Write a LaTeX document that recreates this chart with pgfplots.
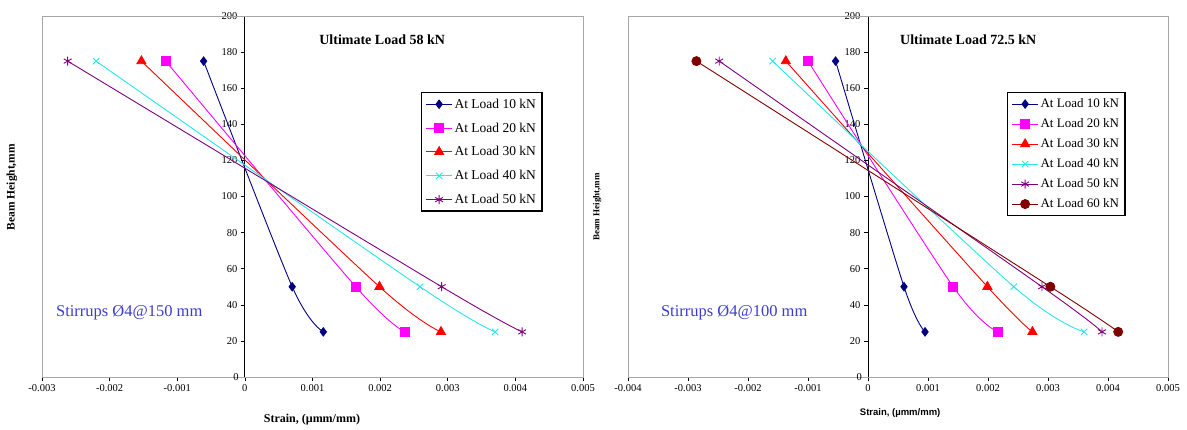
\documentclass[border=0pt]{standalone}
\usepackage{fontspec}
\setmainfont{Liberation Serif}
\newfontfamily\sansf{Liberation Sans}
\usepackage{pgfplots}
\pgfplotsset{compat=1.18}

\definecolor{c10}{RGB}{0,0,128}
\definecolor{c20}{RGB}{255,0,255}
\definecolor{c30}{RGB}{255,0,0}
\definecolor{c40}{RGB}{40,230,235}
\definecolor{c50}{RGB}{128,0,128}
\definecolor{c60}{RGB}{128,0,0}
\definecolor{stirblue}{RGB}{60,60,210}

\pgfplotsset{
  strainaxis/.style={
    scale only axis, width=541bp, height=361bp,
    ymin=0, ymax=200, ytick={0,20,...,200},
    axis x line=bottom, axis y line=center,
    axis line style={-, black, line width=0.8pt},
    tick align=outside, major tick length=4bp,
    tick style={black, line width=0.6pt},
    scaled x ticks=false,
    every tick label/.append style={font=\fontsize{10.5bp}{12bp}\selectfont},
    /pgf/number format/assume math mode=true,
    clip=false,
    legend cell align=left,
    legend image code/.code={\draw[mark repeat=2,mark phase=2,##1] plot coordinates {(0bp,0bp) (13bp,0bp) (26bp,0bp)};},
    before end axis/.code={\draw[gray!70, line width=0.8pt] (rel axis cs:0,0) rectangle (rel axis cs:1,1);
      \node[anchor=east, font=\fontsize{10.5bp}{12bp}\selectfont, inner sep=2bp] at ([xshift=-4bp]axis cs:0,0) {0};},
  },
  s10/.style={c10, line width=0.9pt, smooth, mark=diamond*, mark size=4.2bp, mark options={solid}},
  s20/.style={c20, line width=0.9pt, smooth, mark=square*, mark size=4.5bp, mark options={solid}},
  s30/.style={c30, line width=0.9pt, smooth, mark=triangle*, mark size=5.2bp, mark options={solid}},
  s40/.style={c40, line width=0.9pt, smooth, mark=x, mark size=4.5bp, mark options={solid}},
  s50/.style={c50, line width=0.9pt, smooth, mark=asterisk, mark size=4.5bp, mark options={solid}},
  s60/.style={c60, line width=0.9pt, smooth, mark=*, mark size=4.5bp, mark options={solid}},
}

\begin{document}
\begin{tikzpicture}
\useasboundingbox (0,0) rectangle (1187bp,430bp);

% left: stirrups 150 mm
\begin{axis}[strainaxis,
  at={(42bp,53bp)}, anchor=south west,
  xmin=-0.003, xmax=0.005,
  xtick={-0.003,-0.002,-0.001,0,0.001,0.002,0.003,0.004,0.005},
  xticklabels={-0.003,-0.002,-0.001,0,0.001,0.002,0.003,0.004,0.005},
  legend style={at={(rel axis cs:0.7006,0.789)}, anchor=north west, draw=black, line width=1.3pt,
    inner xsep=4bp, inner ysep=4bp, row sep=9bp,
    font=\fontsize{13.5bp}{14bp}\selectfont},
]
\addplot[s10] coordinates {(-0.00061,175) (0.0007,50) (0.00116,25)};
\addplot[s20] coordinates {(-0.00117,175) (0.00164,50) (0.00236,25)};
\addplot[s30] coordinates {(-0.00153,175) (0.00199,50) (0.0029,25)};
\addplot[s40] coordinates {(-0.0022,175) (0.00259,50) (0.0037,25)};
\addplot[s50] coordinates {(-0.00262,175) (0.00291,50) (0.0041,25)};
\legend{At Load 10 kN, At Load 20 kN, At Load 30 kN, At Load 40 kN, At Load 50 kN}
\node[font=\fontsize{14bp}{16bp}\selectfont\bfseries] at (axis cs:0.00203,186.7) {Ultimate Load 58 kN};
\node[font=\fontsize{16.5bp}{18bp}\selectfont, text=stirblue] at (axis cs:-0.00171,35.5) {Stirrups Ø4@150 mm};
\node[font=\fontsize{12bp}{14bp}\selectfont\bfseries] at (rel axis cs:0.499,-0.119) {Strain, (µmm/mm)};
\node[font=\fontsize{11.5bp}{13bp}\selectfont\bfseries, rotate=90] at (rel axis cs:-0.0555,0.526) {Beam Height,mm};
\end{axis}

% right: stirrups 100 mm
\begin{axis}[strainaxis,
  at={(628bp,53bp)}, anchor=south west, width=540bp,
  xmin=-0.004, xmax=0.005,
  xtick={-0.004,-0.003,-0.002,-0.001,0,0.001,0.002,0.003,0.004,0.005},
  xticklabels={-0.004,-0.003,-0.002,-0.001,0,0.001,0.002,0.003,0.004,0.005},
  legend style={at={(rel axis cs:0.7019,0.789)}, anchor=north west, draw=black, line width=1.3pt,
    inner xsep=4bp, inner ysep=4bp, row sep=5.5bp,
    font=\fontsize{13bp}{13bp}\selectfont},
]
\addplot[s10] coordinates {(-0.00054,175) (0.0006,50) (0.00095,25)};
\addplot[s20] coordinates {(-0.001,175) (0.00142,50) (0.00216,25)};
\addplot[s30] coordinates {(-0.00137,175) (0.00199,50) (0.00274,25)};
\addplot[s40] coordinates {(-0.00159,175) (0.00243,50) (0.0036,25)};
\addplot[s50] coordinates {(-0.00248,175) (0.0029,50) (0.0039,25)};
\addplot[s60] coordinates {(-0.00286,175) (0.00304,50) (0.00417,25)};
\legend{At Load 10 kN, At Load 20 kN, At Load 30 kN, At Load 40 kN, At Load 50 kN, At Load 60 kN}
\node[font=\fontsize{14bp}{16bp}\selectfont\bfseries] at (axis cs:0.00167,186.7) {Ultimate Load 72.5 kN};
\node[font=\fontsize{16.5bp}{18bp}\selectfont, text=stirblue] at (axis cs:-0.00223,35.5) {Stirrups Ø4@100 mm};
\node[font=\sansf\fontsize{9.5bp}{11bp}\selectfont\bfseries] at (rel axis cs:0.504,-0.0997) {Strain, (µmm/mm)};
\node[font=\fontsize{9bp}{11bp}\selectfont\bfseries, rotate=90] at (rel axis cs:-0.057,0.471) {Beam Height,mm};
\end{axis}
\end{tikzpicture}
\end{document}
